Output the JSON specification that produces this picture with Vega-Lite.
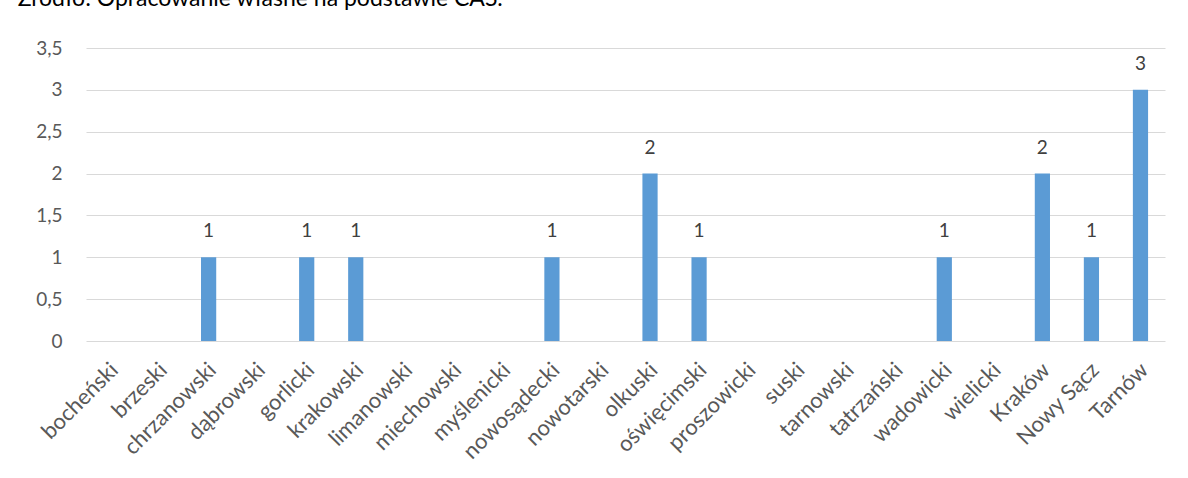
{
  "$schema": "https://vega.github.io/schema/vega-lite/v6.json",
  "width": 1079,
  "height": 293,
  "autosize": "none",
  "padding": {"left": 86, "top": 48, "right": 23, "bottom": 137},
  "background": "white",
  "config": {
    "font": "Lato",
    "view": {"stroke": null}
  },
  "title": {
    "text": "Źródło: Opracowanie własne na podstawie CAS.",
    "anchor": "start",
    "dx": -18,
    "offset": 10,
    "fontSize": 23,
    "fontWeight": "normal",
    "color": "#000000",
    "baseline": "alphabetic"
  },
  "data": {
    "values": [
      {"powiat": "bocheński", "liczba": 0},
      {"powiat": "brzeski", "liczba": 0},
      {"powiat": "chrzanowski", "liczba": 1},
      {"powiat": "dąbrowski", "liczba": 0},
      {"powiat": "gorlicki", "liczba": 1},
      {"powiat": "krakowski", "liczba": 1},
      {"powiat": "limanowski", "liczba": 0},
      {"powiat": "miechowski", "liczba": 0},
      {"powiat": "myślenicki", "liczba": 0},
      {"powiat": "nowosądecki", "liczba": 1},
      {"powiat": "nowotarski", "liczba": 0},
      {"powiat": "olkuski", "liczba": 2},
      {"powiat": "oświęcimski", "liczba": 1},
      {"powiat": "proszowicki", "liczba": 0},
      {"powiat": "suski", "liczba": 0},
      {"powiat": "tarnowski", "liczba": 0},
      {"powiat": "tatrzański", "liczba": 0},
      {"powiat": "wadowicki", "liczba": 1},
      {"powiat": "wielicki", "liczba": 0},
      {"powiat": "Kraków", "liczba": 2},
      {"powiat": "Nowy Sącz", "liczba": 1},
      {"powiat": "Tarnów", "liczba": 3}
    ]
  },
  "encoding": {
    "x": {
      "field": "powiat",
      "type": "nominal",
      "sort": null,
      "scale": {"paddingInner": 0.69, "paddingOuter": 0.345},
      "axis": {
        "title": null,
        "labelAngle": -45,
        "labelAlign": "right",
        "labelBaseline": "middle",
        "labelPadding": 25,
        "labelOffset": 4,
        "labelFontSize": 22,
        "labelColor": "#595959",
        "ticks": false,
        "domain": false
      }
    },
    "y": {
      "field": "liczba",
      "type": "quantitative",
      "scale": {"domain": [0, 3.5], "nice": false},
      "axis": {
        "title": null,
        "values": [0, 0.5, 1, 1.5, 2, 2.5, 3, 3.5],
        "labelExpr": "replace(format(datum.value, '~g'), '.', ',')",
        "labelFontSize": 19,
        "labelColor": "#595959",
        "labelPadding": 24,
        "ticks": false,
        "domain": false,
        "gridColor": "#d9d9d9",
        "gridWidth": 1
      }
    }
  },
  "layer": [
    {"mark": {"type": "bar", "color": "#5b9bd5"}},
    {
      "transform": [{"filter": "datum.liczba > 0"}],
      "mark": {"type": "text", "baseline": "alphabetic", "dy": -20, "fontSize": 19, "color": "#404040"},
      "encoding": {"text": {"field": "liczba", "type": "quantitative"}}
    }
  ]
}
